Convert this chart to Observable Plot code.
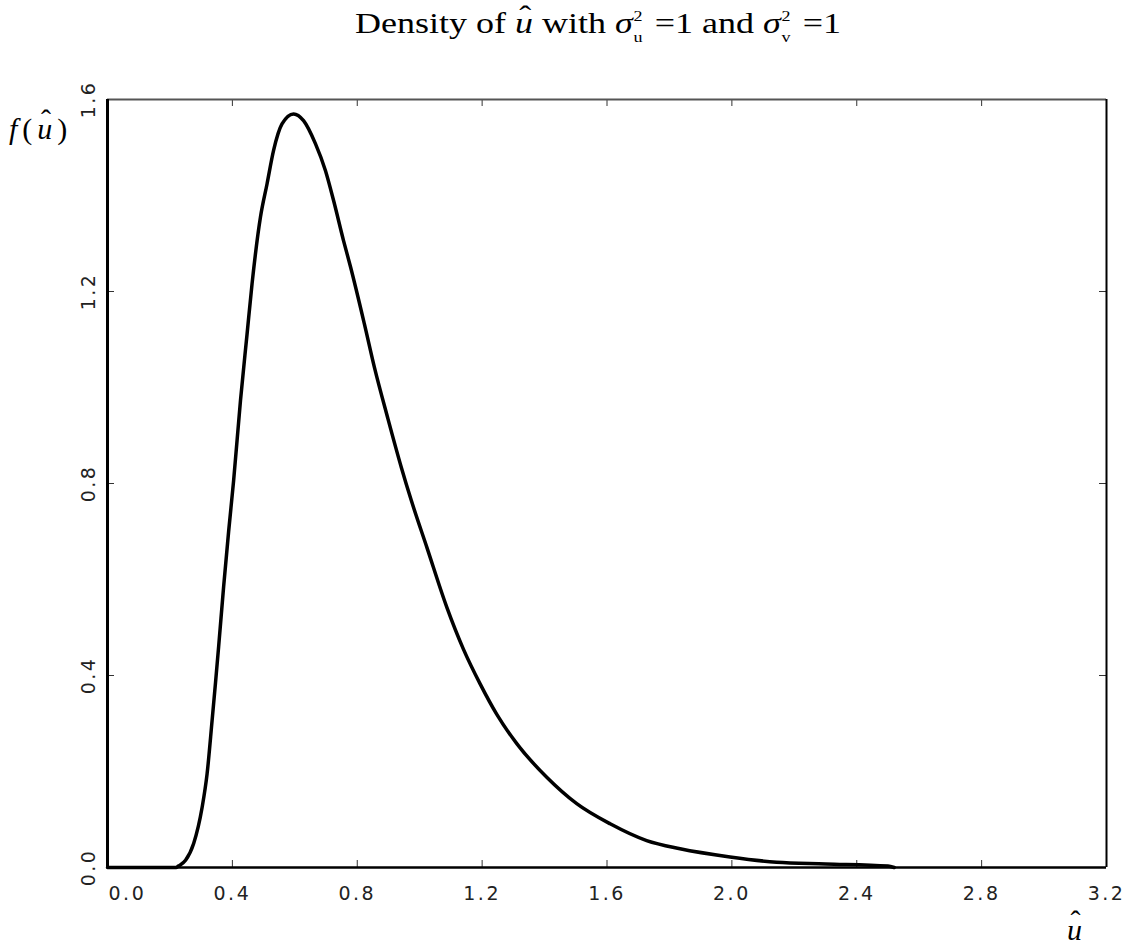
<!DOCTYPE html>
<html>
<head>
<meta charset="utf-8">
<script src="https://cdn.jsdelivr.net/npm/d3@7"></script>
<script src="https://cdn.jsdelivr.net/npm/@observablehq/plot@0.6"></script>
<style>
  body { margin: 0; background: #fff; }
  #wrap { position: relative; width: 1130px; height: 951px; overflow: hidden; background: #fff; }
  .serif { font-family: "Liberation Serif", "Times New Roman", serif; color: #000; font-size: 30px; line-height: 1; white-space: nowrap; position: absolute; }
  #titlebox { height: 60px; position: relative; }
  #title { left: 598px; top: 8px; transform: translateX(-50%) scaleX(1.2); }
  .hat { position: relative; font-style: italic; display: inline-block; }
  .hat .c { position: absolute; left: 0.12em; top: -7px; font-style: normal; }
  .ss { display: inline-block; position: relative; width: 0.36em; height: 0.8em; }
  .ss .sp, .ss .sb { position: absolute; left: 0.04em; font-size: 15px; line-height: 1; }
  .ss .sp { top: 0px; }
  .ss .sb { top: 21px; }
  #ylab { left: 9px; top: 114px; letter-spacing: 5px; }
  #ylab .hat .c { top: -9px; }
  #xlab { left: 1067px; top: 915px; }
  #xlab .hat .c { top: -9px; }
  #chart svg { display: block; }
</style>
</head>
<body>
<div id="wrap">
  <div id="titlebox">
    <div id="title" class="serif">Density of <span class="hat">u<span class="c">ˆ</span></span> with <i>σ</i><span class="ss"><span class="sp">2</span><span class="sb">u</span></span> =1 and <i>σ</i><span class="ss"><span class="sp">2</span><span class="sb">v</span></span> =1</div>
  </div>
  <div id="chart"></div>
  <div id="ylab" class="serif"><i>f</i>(<span class="hat">u<span class="c">ˆ</span></span>)</div>
  <div id="xlab" class="serif"><span class="hat">u<span class="c">ˆ</span></span></div>
</div>
<script>
// Tick values
const xTicks = [0.0, 0.4, 0.8, 1.2, 1.6, 2.0, 2.4, 2.8, 3.2];
const yTicks = [0.0, 0.4, 0.8, 1.2, 1.6];

// Curve: u-hat values and density f(u-hat)
const uHat = [0, 0.22, 0.227, 0.25, 0.276, 0.303, 0.319, 0.335, 0.346, 0.356, 0.372, 0.388, 0.404,
  0.426, 0.447, 0.463, 0.49, 0.511, 0.532, 0.559, 0.596, 0.628, 0.666, 0.698, 0.724, 0.756,
  0.779, 0.823, 0.855, 0.897, 0.941, 0.973, 1.023, 1.087, 1.14, 1.194, 1.247, 1.311, 1.407,
  1.503, 1.61, 1.727, 1.834, 1.994, 2.143, 2.30, 2.5, 2.52];
const density = [0, 0, 0.003, 0.015, 0.05, 0.125, 0.195, 0.306, 0.385, 0.46, 0.585, 0.70, 0.806,
  0.973, 1.111, 1.216, 1.355, 1.424, 1.494, 1.549, 1.57, 1.556, 1.508, 1.452, 1.39, 1.306,
  1.25, 1.132, 1.042, 0.938, 0.834, 0.765, 0.667, 0.542, 0.455, 0.382, 0.319, 0.258, 0.188,
  0.133, 0.091, 0.056, 0.039, 0.022, 0.011, 0.0075, 0.003, 0];

const data = uHat.map((u, i) => ({u, f: density[i]}));
const fmt = d3.format(".1f");

const W = 1130, H = 891, mt = 39, mb = 84, ml = 107, mr = 24;
const fh = H - mt - mb, fw = W - ml - mr;
const tickLen = 7;
const innerX = xTicks.slice(1, -1);
const innerY = yTicks.slice(1, -1);
const xMin = xTicks[0], xMax = xTicks[xTicks.length - 1];
const yMin = yTicks[0], yMax = yTicks[yTicks.length - 1];

const labelStyle = {fontFamily: "DejaVu Sans, sans-serif", fontSize: 19, fill: "#222"};

const chart = Plot.plot({
  width: W, height: H,
  marginTop: mt, marginBottom: mb, marginLeft: ml, marginRight: mr,
  style: {background: "white", letterSpacing: "2.5px", overflow: "visible"},
  x: {domain: [xMin, xMax], axis: null},
  y: {domain: [yMin, yMax], axis: null},
  marks: [
    // inward ticks
    Plot.ruleX(innerX, {x: d => d, insetTop: fh - tickLen, stroke: "#333", strokeWidth: 1}),
    Plot.ruleX(innerX, {x: d => d, insetBottom: fh - tickLen, stroke: "#333", strokeWidth: 1}),
    Plot.ruleY(innerY, {y: d => d, insetRight: fw - tickLen, stroke: "#333", strokeWidth: 1}),
    Plot.ruleY(innerY, {y: d => d, insetLeft: fw - tickLen, stroke: "#333", strokeWidth: 1}),
    // frame
    Plot.ruleY([yMax], {stroke: "#555", strokeWidth: 2}),
    Plot.ruleX([xMax], {stroke: "#000", strokeWidth: 2}),
    Plot.ruleX([xMin], {stroke: "#000", strokeWidth: 3}),
    Plot.ruleY([yMin], {stroke: "#000", strokeWidth: 2.5}),
    // density curve
    Plot.line(data, {x: "u", y: "f", stroke: "#000", strokeWidth: 3.5, curve: "monotone-x"}),
    // tick labels
    Plot.text(xTicks.slice(1), {x: d => d, text: d => fmt(d), frameAnchor: "bottom", dy: 26, textAnchor: "middle", lineAnchor: "middle", ...labelStyle}),
    Plot.text(xTicks.slice(0, 1), {x: d => d, text: d => fmt(d), frameAnchor: "bottom", dy: 26, dx: 1, textAnchor: "start", lineAnchor: "middle", ...labelStyle}),
    Plot.text(yTicks, {y: d => d, text: d => fmt(d), frameAnchor: "left", dx: -19, rotate: -90, textAnchor: "middle", lineAnchor: "middle", ...labelStyle})
  ]
});
document.getElementById("chart").appendChild(chart);
</script>
</body>
</html>
